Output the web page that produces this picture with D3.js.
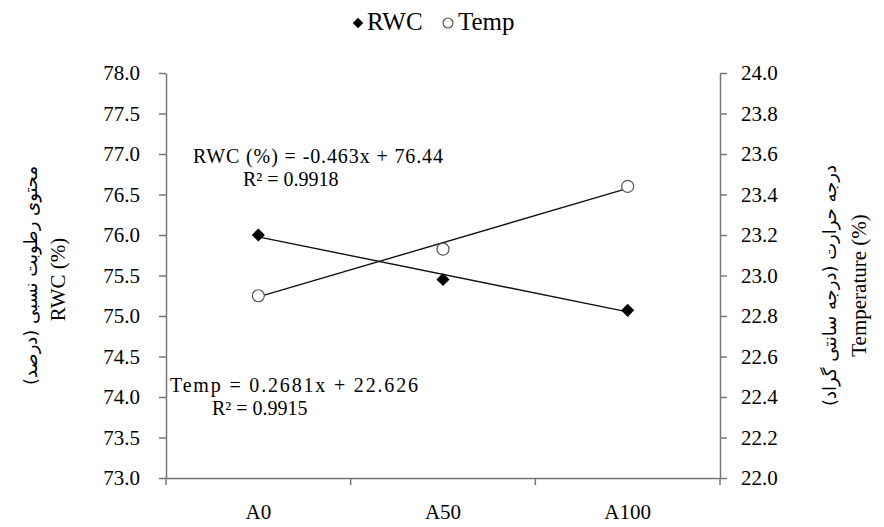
<!DOCTYPE html>
<html>
<head>
<meta charset="utf-8">
<script src="https://cdn.jsdelivr.net/npm/d3@7"></script>
<style>
  body { margin: 0; background: #fff; }
  svg text { font-family: "Liberation Serif", "DejaVu Serif", serif; fill: #000; }
  svg text.fa { font-family: "DejaVu Sans", sans-serif; }
</style>
</head>
<body>
<div id="container"></div>
<script>
/* CONSTANTS AND GLOBALS */
const width = 884,
  height = 527,
  margin = { top: 73, bottom: 49, left: 166, right: 164 };

const serif = "Liberation Serif";

// data
const categories = ["A0", "A50", "A100"];
const rwcValues = [76.0, 75.45, 75.07];
const tempValues = [22.90, 23.13, 23.44];

// trendlines (slope, intercept) as printed on the chart, x = 1..3
const rwcTrend = [-0.463, 76.44];
const tempTrend = [0.2681, 22.626];

const leftTicks = [73.0, 73.5, 74.0, 74.5, 75.0, 75.5, 76.0, 76.5, 77.0, 77.5, 78.0];
const rightTicks = [22.0, 22.2, 22.4, 22.6, 22.8, 23.0, 23.2, 23.4, 23.6, 23.8, 24.0];

const svg = d3.select("#container")
  .append("svg")
  .attr("width", width)
  .attr("height", height);

// scales
const xScale = d3.scaleBand()
  .domain(categories)
  .range([margin.left, width - margin.right]);

const yLeft = d3.scaleLinear()
  .domain([73, 78])
  .range([height - margin.bottom, margin.top]);

const yRight = d3.scaleLinear()
  .domain([22, 24])
  .range([height - margin.bottom, margin.top]);

const cx = (i) => xScale(categories[i]) + xScale.bandwidth() / 2;

// axes
const axisColor = "#777";

const xAxisGroup = svg.append("g")
  .attr("transform", `translate(0, ${height - margin.bottom})`)
  .call(d3.axisBottom(xScale).tickSize(0).tickPadding(32).tickSizeOuter(0));
xAxisGroup.attr("font-family", serif);
xAxisGroup.select(".domain").attr("stroke", axisColor).attr("stroke-width", 1.5);
xAxisGroup.selectAll("text").attr("font-size", 21).attr("dy", "0.45em");

// band boundary ticks on x axis
svg.append("g").selectAll("line")
  .data(categories.map((c, i) => i).concat([categories.length]))
  .join("line")
  .attr("x1", i => i < categories.length ? xScale(categories[i]) : xScale.range()[1])
  .attr("x2", i => i < categories.length ? xScale(categories[i]) : xScale.range()[1])
  .attr("y1", height - margin.bottom)
  .attr("y2", height - margin.bottom + 7)
  .attr("stroke", axisColor)
  .attr("stroke-width", 1.5);

const yLeftGroup = svg.append("g")
  .attr("transform", `translate(${margin.left}, 0)`)
  .call(d3.axisLeft(yLeft).tickValues(leftTicks).tickFormat(d3.format(".1f")).tickSize(7).tickPadding(19).tickSizeOuter(0));
yLeftGroup.attr("font-family", serif);
yLeftGroup.select(".domain").attr("stroke", axisColor).attr("stroke-width", 1.5);
yLeftGroup.selectAll(".tick line").attr("stroke", axisColor).attr("stroke-width", 1.5);
yLeftGroup.selectAll("text").attr("font-size", 21);

const yRightGroup = svg.append("g")
  .attr("transform", `translate(${width - margin.right}, 0)`)
  .call(d3.axisRight(yRight).tickValues(rightTicks).tickFormat(d3.format(".1f")).tickSize(7).tickPadding(14).tickSizeOuter(0));
yRightGroup.attr("font-family", serif);
yRightGroup.select(".domain").attr("stroke", axisColor).attr("stroke-width", 1.5);
yRightGroup.selectAll(".tick line").attr("stroke", axisColor).attr("stroke-width", 1.5);
yRightGroup.selectAll("text").attr("font-size", 21);

// trendlines
const firstX = 1, lastX = categories.length;
svg.append("line")
  .attr("x1", cx(0)).attr("x2", cx(categories.length - 1))
  .attr("y1", yLeft(rwcTrend[0] * firstX + rwcTrend[1]))
  .attr("y2", yLeft(rwcTrend[0] * lastX + rwcTrend[1]))
  .attr("stroke", "#111").attr("stroke-width", 1.4);

svg.append("line")
  .attr("x1", cx(0)).attr("x2", cx(categories.length - 1))
  .attr("y1", yRight(tempTrend[0] * firstX + tempTrend[1]))
  .attr("y2", yRight(tempTrend[0] * lastX + tempTrend[1]))
  .attr("stroke", "#111").attr("stroke-width", 1.4);

// markers
const diamond = d3.symbol().type(d3.symbolDiamond2).size(110);
svg.append("g").selectAll("path")
  .data(rwcValues)
  .join("path")
  .attr("d", diamond)
  .attr("transform", (d, i) => `translate(${cx(i)}, ${yLeft(d)})`)
  .attr("fill", "#000");

svg.append("g").selectAll("circle")
  .data(tempValues)
  .join("circle")
  .attr("cx", (d, i) => cx(i))
  .attr("cy", d => yRight(d))
  .attr("r", 6)
  .attr("fill", "#fff")
  .attr("stroke", "#555")
  .attr("stroke-width", 1.2);

// equations
svg.append("text").attr("x", 193).attr("y", 163).attr("font-size", 20)
  .attr("textLength", 250).attr("lengthAdjust", "spacing")
  .text("RWC (%) = -0.463x + 76.44");
svg.append("text").attr("x", 243).attr("y", 186).attr("font-size", 20)
  .text("R² = 0.9918");
svg.append("text").attr("x", 170).attr("y", 392).attr("font-size", 20)
  .attr("textLength", 248).attr("lengthAdjust", "spacing")
  .text("Temp = 0.2681x + 22.626");
svg.append("text").attr("x", 212).attr("y", 415).attr("font-size", 20)
  .text("R² = 0.9915");

// legend
const legend = svg.append("g").attr("transform", "translate(0, 30)");
legend.append("path").attr("d", d3.symbol().type(d3.symbolDiamond2).size(70))
  .attr("transform", "translate(358, -7)").attr("fill", "#000");
legend.append("text").attr("x", 367).attr("y", 0).attr("font-size", 25).text("RWC");
legend.append("circle").attr("cx", 448).attr("cy", -7).attr("r", 5)
  .attr("fill", "#fff").attr("stroke", "#555").attr("stroke-width", 1.2);
legend.append("text").attr("x", 458).attr("y", 0).attr("font-size", 25).text("Temp");

// axis titles
const midY = (margin.top + height - margin.bottom) / 2;
svg.append("text").attr("class", "fa")
  .attr("transform", `translate(37, ${midY}) rotate(-90)`)
  .attr("text-anchor", "middle").attr("direction", "rtl").attr("font-size", 18)
  .text("محتوی رطوبت نسبی (درصد)");
svg.append("text")
  .attr("transform", `translate(65, ${midY + 4}) rotate(-90)`)
  .attr("text-anchor", "middle").attr("font-size", 21)
  .text("RWC (%)");

svg.append("text").attr("class", "fa")
  .attr("transform", `translate(836, ${midY + 10}) rotate(-90)`)
  .attr("text-anchor", "middle").attr("direction", "rtl").attr("font-size", 18)
  .text("درجه حرارت (درجه سانتی گراد)");
svg.append("text")
  .attr("transform", `translate(866, ${midY + 10}) rotate(-90)`)
  .attr("text-anchor", "middle").attr("font-size", 21)
  .text("Temperature (%)");
</script>
</body>
</html>
